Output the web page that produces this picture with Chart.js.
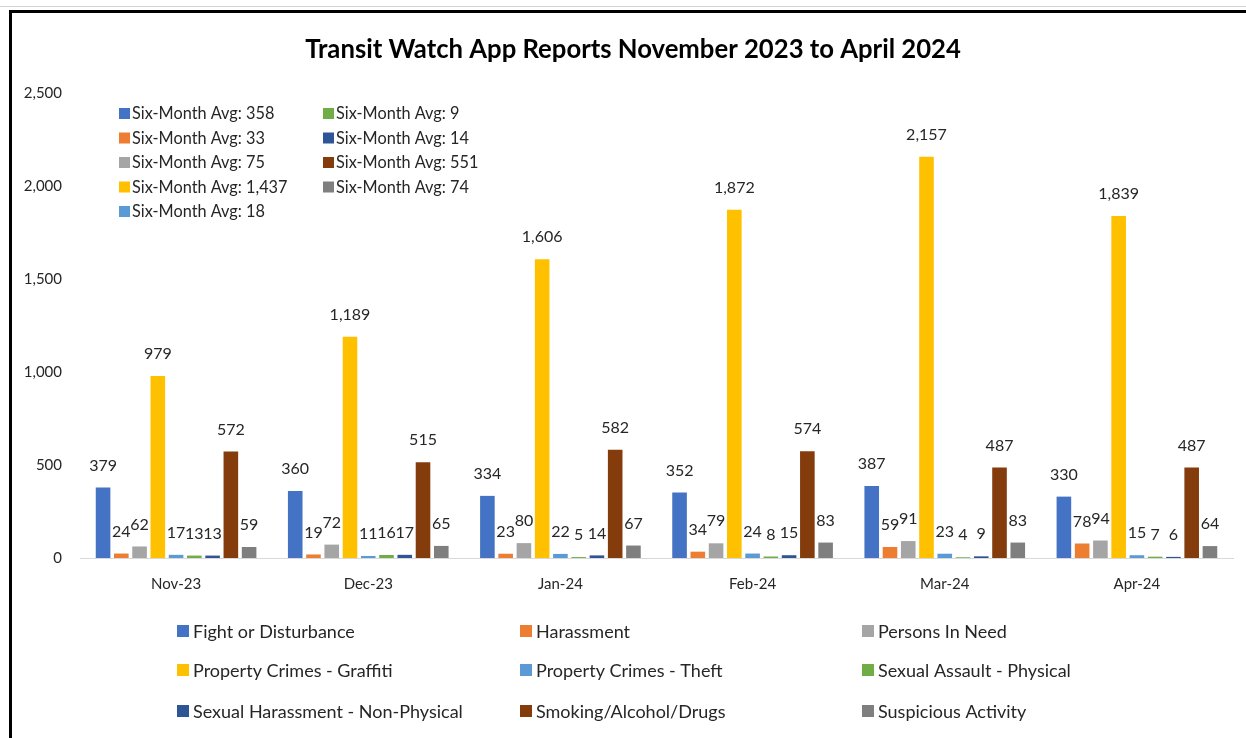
<!DOCTYPE html>
<html>
<head>
<meta charset="utf-8">
<script src="https://cdn.jsdelivr.net/npm/chart.js@4"></script>
<style>
  html, body { margin: 0; padding: 0; background: #fff; }
  #wrap { position: relative; width: 1246px; height: 738px; }
</style>
</head>
<body>
<div id="wrap"><canvas id="chart" width="1246" height="738"></canvas></div>
<script>
// values
const months = ['Nov-23', 'Dec-23', 'Jan-24', 'Feb-24', 'Mar-24', 'Apr-24']
const seriesNames = [
    'Fight or Disturbance', 'Harassment', 'Persons In Need',
    'Property Crimes - Graffiti', 'Property Crimes - Theft', 'Sexual Assault - Physical',
    'Sexual Harassment - Non-Physical', 'Smoking/Alcohol/Drugs', 'Suspicious Activity'
]
const fight = [379, 360, 334, 352, 387, 330]
const harassment = [24, 19, 23, 34, 59, 78]
const personsInNeed = [62, 72, 80, 79, 91, 94]
const graffiti = [979, 1189, 1606, 1872, 2157, 1839]
const theft = [17, 11, 22, 24, 23, 15]
const assault = [13, 16, 5, 8, 4, 7]
const harassNonPhysical = [13, 17, 14, 15, 9, 6]
const smoking = [572, 515, 582, 574, 487, 487]
const suspicious = [59, 65, 67, 83, 83, 64]
const sixMonthAvg = ['358', '33', '75', '1,437', '18', '9', '14', '551', '74']
const yTicks = [0, 500, 1000, 1500, 2000, 2500]

const colors = ['#4472C4', '#ED7D31', '#A5A5A5', '#FFC000', '#5B9BD5', '#70AD47', '#2F5597', '#843C0C', '#7F7F7F']
const series = [fight, harassment, personsInNeed, graffiti, theft, assault, harassNonPhysical, smoking, suspicious]

const FONT = 'Lato, "Open Sans", sans-serif'
const textColor = '#262626'

const fmt = v => v.toLocaleString('en-US')

// frame, title, value labels and both legends
const decorations = {
    id: 'decorations',
    beforeDraw(chart) {
        const ctx = chart.ctx
        ctx.save()
        ctx.fillStyle = '#fff'
        ctx.fillRect(0, 0, chart.width, chart.height)
        ctx.fillStyle = '#d4d4d4'
        ctx.fillRect(0, 6, chart.width, 1)
        ctx.fillStyle = '#000'
        ctx.fillRect(9, 10, chart.width - 9, 3)
        ctx.fillRect(9, 10, 3, chart.height - 10)
        ctx.restore()
    },
    afterDatasetsDraw(chart) {
        const ctx = chart.ctx
        ctx.save()

        // title
        ctx.fillStyle = '#000'
        ctx.textAlign = 'center'
        ctx.textBaseline = 'middle'
        const title = 'Transit Watch App Reports November 2023 to April 2024'
        let size = 26
        ctx.font = `bold ${size}px ${FONT}`
        size = size * 656 / ctx.measureText(title).width
        ctx.font = `bold ${size}px ${FONT}`
        ctx.fillText(title, 633, 50)

        // value labels above bars
        ctx.font = `16px ${FONT}`
        ctx.fillStyle = textColor
        chart.data.datasets.forEach((ds, i) => {
            chart.getDatasetMeta(i).data.forEach((bar, j) => {
                ctx.fillText(fmt(ds.data[j]), bar.x, bar.y - 22)
            })
        })

        // six-month average legend inside plot
        ctx.textAlign = 'left'
        ctx.font = `16.3px ${FONT}`
        sixMonthAvg.forEach((avg, i) => {
            const col = i < 5 ? 0 : 1
            const row = i < 5 ? i : i - 5
            const x = col === 0 ? 119 : 323
            const y = 113 + row * 24.5
            ctx.fillStyle = colors[i]
            ctx.fillRect(x, y - 5, 11, 11)
            ctx.fillStyle = textColor
            ctx.fillText('Six-Month Avg: ' + avg, x + 13, y + 1)
        })

        // series legend below
        ctx.font = `18px ${FONT}`
        seriesNames.forEach((name, i) => {
            const x = [177, 520, 862][i % 3]
            const y = [631, 670, 711][Math.floor(i / 3)]
            ctx.fillStyle = colors[i]
            ctx.fillRect(x, y - 6, 12, 12)
            ctx.fillStyle = textColor
            ctx.fillText(name, x + 16, y + 1)
        })
        ctx.restore()
    }
}

new Chart(document.getElementById('chart'), {
    type: 'bar',
    data: {
        labels: months,
        datasets: series.map((d, i) => ({
            label: seriesNames[i],
            data: d,
            backgroundColor: colors[i],
            borderWidth: 0,
            barPercentage: 0.8,
            categoryPercentage: 0.855
        }))
    },
    options: {
        responsive: false,
        animation: false,
        layout: { padding: { top: 93, right: 13, left: 0, bottom: 0 } },
        plugins: {
            legend: { display: false },
            tooltip: { enabled: false },
            title: { display: false }
        },
        scales: {
            x: {
                grid: { display: false, drawTicks: false },
                border: { display: true, color: '#d9d9d9', width: 1 },
                ticks: { color: textColor, font: { family: FONT, size: 15 }, padding: 17 },
                afterFit: s => { s.height = 180 }
            },
            y: {
                min: 0,
                max: 2500,
                afterBuildTicks: s => { s.ticks = yTicks.map(v => ({ value: v })) },
                grid: { display: false, drawTicks: false },
                border: { display: false },
                ticks: { color: textColor, font: { family: FONT, size: 15 }, padding: 18, callback: v => fmt(v) },
                afterFit: s => { s.width = 80 }
            }
        }
    },
    plugins: [decorations]
})
</script>
</body>
</html>
